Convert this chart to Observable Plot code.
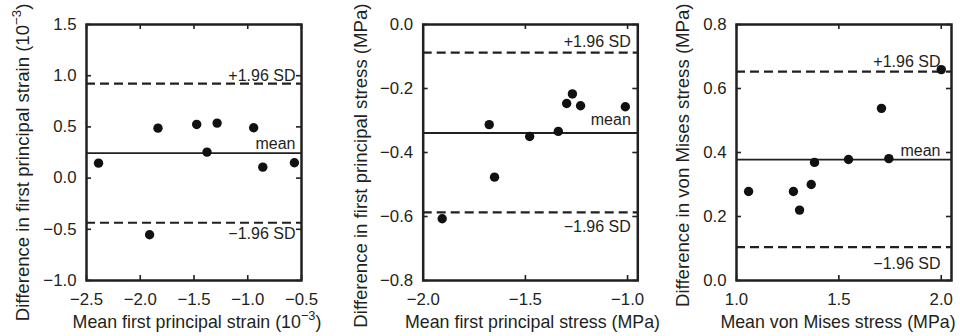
<!DOCTYPE html>
<html><head><meta charset="utf-8">
<script src="https://cdn.jsdelivr.net/npm/d3@7"></script>
<script src="https://cdn.jsdelivr.net/npm/@observablehq/plot@0.6"></script>
<style>
html,body{margin:0;padding:0;background:#fff;}
#chart{position:relative;width:960px;height:336px;overflow:hidden;background:#fff;}
#chart svg{position:absolute;top:0;overflow:visible;background:transparent;}
</style></head><body><div id="chart"></div>
<script>
// ---- Panel 1: first principal strain (10^-3)
const strainMean = [-2.388, -1.835, -1.913, -1.475, -1.379, -1.285, -0.945, -0.860, -0.566];
const strainDiff = [0.146, 0.488, -0.553, 0.524, 0.254, 0.537, 0.492, 0.107, 0.150];
const strainLines = [0.922, 0.244, -0.436]; // +1.96 SD, mean, -1.96 SD
const strainXTicks = [-2.5, -2.0, -1.5, -1.0, -0.5];
const strainYTicks = [-1.0, -0.5, 0.0, 0.5, 1.0, 1.5];

// ---- Panel 2: first principal stress (MPa)
const stressMean = [-1.907, -1.677, -1.651, -1.479, -1.339, -1.298, -1.270, -1.230, -1.011];
const stressDiff = [-0.607, -0.313, -0.477, -0.350, -0.334, -0.247, -0.217, -0.254, -0.257];
const stressLines = [-0.088, -0.339, -0.587];
const stressXTicks = [-2.0, -1.5, -1.0];
const stressYTicks = [-0.8, -0.6, -0.4, -0.2, 0.0];

// ---- Panel 3: von Mises stress (MPa)
const misesMean = [1.059, 1.278, 1.308, 1.365, 1.381, 1.547, 1.708, 1.744, 2.000];
const misesDiff = [0.278, 0.278, 0.220, 0.300, 0.369, 0.378, 0.538, 0.381, 0.659];
const misesLines = [0.653, 0.378, 0.104];
const misesXTicks = [1.0, 1.5, 2.0];
const misesYTicks = [0.0, 0.2, 0.4, 0.6, 0.8];

const lineLabels = ["+1.96 SD", "mean", "\u22121.96 SD"];
const xLabels = ["Mean first principal strain (10^\u22123^)", "Mean first principal stress (MPa)", "Mean von Mises stress (MPa)"];
const yLabels = ["Difference in first principal strain (10^\u22123^)", "Difference in first principal stress (MPa)", "Difference in von Mises stress (MPa)"];

const FONT = "'Liberation Sans', Arial, Helvetica, sans-serif";
const INK = "#231f20";
const fmt = d3.format(".1f");
const H = 336, MT = 24, MB = 56;

function panel(cfg) {
  const plotW = cfg.width - cfg.marginLeft - cfg.marginRight;
  const plotH = H - MT - MB;
  const T = 5;
  const svg = Plot.plot({
    width: cfg.width, height: H,
    marginTop: MT, marginBottom: MB, marginLeft: cfg.marginLeft, marginRight: cfg.marginRight,
    style: {fontFamily: FONT, fontSize: "16.8px", color: INK, background: "transparent", overflow: "visible"},
    x: {domain: cfg.xDomain},
    y: {domain: cfg.yDomain},
    marks: [
      Plot.ruleY([cfg.lines[0], cfg.lines[2]], {stroke: INK, strokeWidth: 2.2, strokeDasharray: "9,5"}),
      Plot.ruleY([cfg.lines[1]], {stroke: INK, strokeWidth: 1.8}),
      Plot.dot(cfg.xs, {x: d => d, y: (d, i) => cfg.ys[i], r: 4.7, fill: "#111", stroke: null}),
      Plot.text([lineLabels[0]], {y: () => cfg.lines[0], text: d => d, frameAnchor: "right", textAnchor: "end", lineAnchor: "bottom", dx: cfg.annDx, dy: cfg.upDy, fontSize: 16}),
      Plot.text([lineLabels[1]], {y: () => cfg.lines[1], text: d => d, frameAnchor: "right", textAnchor: "end", lineAnchor: "bottom", dx: cfg.annDx, dy: cfg.meanDy, fontSize: 16}),
      Plot.text([lineLabels[2]], {y: () => cfg.lines[2], text: d => d, frameAnchor: "right", textAnchor: "end", lineAnchor: "top", dx: cfg.annDx, dy: cfg.lowDy, fontSize: 16}),
      // inward ticks on all four sides
      Plot.tickX(cfg.xTicks, {x: d => d, insetTop: plotH - T, stroke: INK, strokeWidth: 1.6}),
      Plot.tickX(cfg.xTicks, {x: d => d, insetBottom: plotH - T, stroke: INK, strokeWidth: 1.6}),
      Plot.tickY(cfg.yTicks, {y: d => d, insetRight: plotW - T, stroke: INK, strokeWidth: 1.6}),
      Plot.tickY(cfg.yTicks, {y: d => d, insetLeft: plotW - T, stroke: INK, strokeWidth: 1.6}),
      Plot.axisX({ticks: cfg.xTicks, tickSize: 0, tickPadding: 13, tickFormat: fmt, label: null}),
      Plot.axisY({ticks: cfg.yTicks, tickSize: 0, tickPadding: 10, tickFormat: fmt, label: null}),
      Plot.text([cfg.xLabel], {frameAnchor: "bottom", text: d => d, lineAnchor: "bottom", dx: cfg.xLabelDx, dy: 47, fontSize: 17.8}),
      Plot.text([cfg.yLabel], {frameAnchor: "top-left", text: d => d, rotate: -90, textAnchor: "end", lineAnchor: "bottom", dx: cfg.yLabelDx, dy: -21, fontSize: 18.6}),
      Plot.frame({stroke: INK, strokeWidth: 2.5})
    ]
  });
  svg.style.left = cfg.left + "px";
  // superscripts marked as ^...^
  const NS = "http://www.w3.org/2000/svg";
  svg.querySelectorAll("text").forEach(t => {
    const s = t.textContent;
    if (s.indexOf("^") < 0 || t.querySelector("text")) return;
    const target = t.querySelector("tspan") || t;
    const [pre, sup, post] = target.textContent.split("^");
    while (target.firstChild) target.removeChild(target.firstChild);
    target.appendChild(document.createTextNode(pre));
    const ts = document.createElementNS(NS, "tspan");
    ts.setAttribute("dy", "-0.55em"); ts.setAttribute("font-size", "72%"); ts.textContent = sup;
    target.appendChild(ts);
    const tp = document.createElementNS(NS, "tspan");
    tp.setAttribute("dy", "0.4em"); tp.textContent = post;
    target.appendChild(tp);
  });
  return svg;
}

const chart = document.getElementById("chart");
chart.appendChild(panel({
  left: 0, width: 320, marginLeft: 86, marginRight: 19,
  xs: strainMean, ys: strainDiff, lines: strainLines,
  xDomain: [-2.5, -0.5], yDomain: [-1.0, 1.5], xTicks: strainXTicks, yTicks: strainYTicks,
  xLabel: xLabels[0], yLabel: yLabels[0], xLabelDx: 3, yLabelDx: -58,
  annDx: -6, upDy: -3, meanDy: -4.5, lowDy: 5
}));
chart.appendChild(panel({
  left: 320, width: 320, marginLeft: 102.7, marginRight: 2.7,
  xs: stressMean, ys: stressDiff, lines: stressLines,
  xDomain: [-2.0, -0.95], yDomain: [-0.8, 0.0], xTicks: stressXTicks, yTicks: stressYTicks,
  xLabel: xLabels[1], yLabel: yLabels[1], xLabelDx: 2, yLabelDx: -56,
  annDx: -7, upDy: -5.5, meanDy: -7.5, lowDy: 8
}));
chart.appendChild(panel({
  left: 640, width: 320, marginLeft: 96, marginRight: 9,
  xs: misesMean, ys: misesDiff, lines: misesLines,
  xDomain: [1.0, 2.05], yDomain: [0.0, 0.8], xTicks: misesXTicks, yTicks: misesYTicks,
  xLabel: xLabels[2], yLabel: yLabels[2], xLabelDx: -6, yLabelDx: -48,
  annDx: -11, upDy: -4.3, meanDy: -3.5, lowDy: 10
}));
</script></body></html>
